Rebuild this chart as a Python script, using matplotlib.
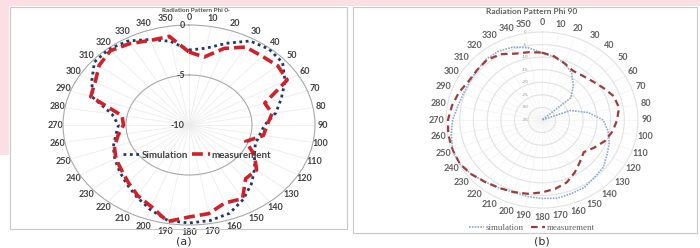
import numpy as np
import matplotlib
matplotlib.use('Agg')
import matplotlib.pyplot as plt
from matplotlib.patches import Rectangle
from matplotlib.transforms import ScaledTranslation

# ---------------- data ----------------
angles_deg = list(range(0, 360, 10))
angle_labels = [str(a) for a in angles_deg]

# Panel (a): Radiation Pattern Phi 0 (dB)
sim_a = [-2.5, -2.2, -1.3, -0.3, -0.1, -0.3, -1.2, -2.2, -3.0, -4.0, -4.3, -4.4,
         -4.0, -3.2, -2.3, -1.4, -0.6, -0.3, -0.2, -0.3, -1.0, -1.7, -2.3, -2.8,
         -3.2, -3.6, -4.1, -4.4, -3.8, -1.85, -1.1, -0.2, -0.1, -0.3, -0.9, -1.5]
meas_a = [-2.7, -3.1, -1.85, -1.0, -1.0, -0.8, -1.0, -3.6, -3.3, -3.8, -4.0, -5.2,
          -4.0, -3.0, -3.0, -1.5, -1.7, -1.0, -0.8, -0.2, -1.3, -1.85, -2.5, -3.0,
          -3.3, -3.7, -4.3, -4.8, -4.6, -1.7, -1.4, -0.7, -0.3, -0.6, -1.0, -1.0]
rticks_a = [-10, -5, 0]

# Panel (b): Radiation Pattern Phi 90 (dB)
sim_b = [-8.2, -9.6, -11.0, -13.4, -17.2, -21.3, -35.0, -24.0, -17.9, -12.7, -10.6, -8.9,
         -7.6, -5.8, -5.2, -4.1, -3.8, -3.4, -3.8, -4.1, -4.5, -3.8, -2.8, -1.4,
         -0.3, -0.3, -1.4, -2.4, -3.8, -4.5, -4.5, -4.1, -3.4, -3.4, -4.1, -5.8]
meas_b = [-8.2, -9.3, -11.0, -12.4, -12.0, -11.0, -9.3, -7.2, -6.5, -7.6, -8.9, -10.6,
          -13.0, -15.1, -13.4, -11.0, -8.6, -7.2, -6.2, -5.2, -4.5, -3.8, -2.8, -1.4,
          -0.3, -0.3, -0.3, -0.7, -1.7, -2.8, -4.1, -4.1, -3.8, -4.8, -6.9, -7.6]
rticks_b = [-35, -30, -25, -20, -15, -10, -5, 0]

W, H = 700, 248


def fx(px):
    return px / W


def fy(py):
    return 1 - py / H


def closed(v):
    return list(v) + [v[0]]


theta = np.deg2rad(closed(angles_deg))
theta[-1] = 2 * np.pi

fig = plt.figure(figsize=(7, 2.48), dpi=100)
fig.patch.set_facecolor('white')

pink = '#fbdfe4'
fig.add_artist(Rectangle((0, fy(6)), 1, 6 / H, transform=fig.transFigure,
                         facecolor=pink, edgecolor='none', zorder=0))
fig.add_artist(Rectangle((0, fy(155)), fx(9), 149 / H, transform=fig.transFigure,
                         facecolor=pink, edgecolor='none', zorder=0))
fig.add_artist(Rectangle((fx(10), fy(229)), fx(337), 222 / H, transform=fig.transFigure,
                         facecolor='none', edgecolor='#c8c8c8', lw=0.8, zorder=1))
fig.add_artist(Rectangle((fx(353), fy(233)), fx(344), 226 / H, transform=fig.transFigure,
                         facecolor='none', edgecolor='#c8c8c8', lw=0.8, zorder=1))

# ---------------- panel (a) ----------------
axa = fig.add_axes([fx(63), fy(225), fx(252), 200 / H], projection='polar')
axa.set_aspect('auto')
axa.set_theta_zero_location('N')
axa.set_theta_direction(-1)
axa.set_ylim(-10, 0)
axa.set_rgrids([-5], labels=[''])
axa.set_thetagrids(angles_deg, angle_labels, fontsize=6.5, fontweight='bold',
                   color='#404040', family='Lato')
axa.tick_params(axis='x', length=0, pad=-1.5)
axa.tick_params(axis='y', length=0)
axa.xaxis.grid(True, color='#ececec', lw=0.6)
axa.yaxis.grid(True, color='#a8a8a8', lw=0.8)
axa.spines['polar'].set_color('#a8a8a8')
axa.spines['polar'].set_linewidth(0.8)

la_sim, = axa.plot(theta, closed(sim_a), color='#1f3864', lw=2.0,
                   linestyle=(0, (1, 1.3)), zorder=3)
la_meas, = axa.plot(theta, closed(meas_a), color='#d0202a', lw=2.6,
                    linestyle=(0, (3, 1.4)), zorder=4)

off = ScaledTranslation(-3 / 72, 0, fig.dpi_scale_trans)
for r in rticks_a:
    axa.text(0, r, str(r), ha='right', va='center', fontsize=6.5, fontweight='bold',
             color='#404040', family='Lato', transform=axa.transData + off, zorder=5)

fig.legend([la_sim, la_meas], ['Simulation', 'measurement'], loc='center',
           bbox_to_anchor=(fx(197), fy(155)), ncol=2, frameon=False,
           handlelength=1.8, handletextpad=0.2, columnspacing=0.4,
           prop={'family': 'Lato', 'weight': 'bold', 'size': 7}, labelcolor='#404040')

fig.text(fx(196), fy(10), 'Radiation Pattern Phi 0·', ha='center', va='center',
         fontsize=4.6, fontweight='bold', color='#505050', family='Lato')
fig.text(fx(184), fy(241), '(a)', ha='center', va='center', fontsize=8, color='#333333')

# ---------------- panel (b) ----------------
axb = fig.add_axes([fx(446), fy(208), fx(192), 176 / H], projection='polar')
axb.set_aspect('auto')
axb.set_theta_zero_location('N')
axb.set_theta_direction(-1)
axb.set_ylim(-35, 0)
axb.set_rgrids(rticks_b[1:-1], labels=[''] * (len(rticks_b) - 2))
axb.set_thetagrids(angles_deg, angle_labels, fontsize=6.5, fontweight='bold',
                   color='#606060', family='Lato')
axb.tick_params(axis='x', length=0, pad=-0.5)
axb.tick_params(axis='y', length=0)
axb.xaxis.grid(True, color='#f2f2f2', lw=0.5)
axb.yaxis.grid(True, color='#e2e2e2', lw=0.8)
axb.spines['polar'].set_color('#e2e2e2')
axb.spines['polar'].set_linewidth(0.8)

lb_sim, = axb.plot(theta, closed(sim_b), color='#8eaacb', lw=1.2,
                   linestyle=(0, (1, 0.7)), zorder=3)
lb_meas, = axb.plot(theta, closed(meas_b), color='#9e3b3c', lw=1.6,
                    linestyle=(0, (3, 2)), zorder=4)

offb = ScaledTranslation(-12 / 72, 0, fig.dpi_scale_trans)
for r in rticks_b:
    axb.text(0, r, str(r), ha='center', va='center', fontsize=3, color='#909090',
             transform=axb.transData + offb, zorder=5)

fig.legend([lb_sim, lb_meas], ['simulation', 'measurement'], loc='center',
           bbox_to_anchor=(fx(532), fy(228)), ncol=2, frameon=False,
           handlelength=1.6, handletextpad=0.2, columnspacing=0.8,
           prop={'family': 'Liberation Serif', 'size': 6.5}, labelcolor='#606060')

fig.text(fx(532), fy(12), 'Radiation Pattern Phi 90', ha='center', va='center',
         fontsize=6, fontweight='bold', color='#606060', family='Lato')
fig.text(fx(542), fy(241), '(b)', ha='center', va='center', fontsize=8, color='#333333')

fig.savefig('out.png', dpi=100, facecolor='white')
